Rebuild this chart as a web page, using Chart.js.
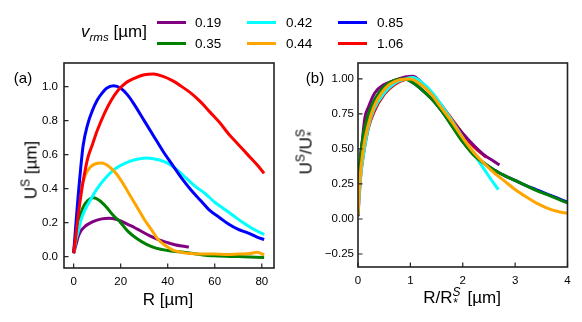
<!DOCTYPE html>
<html>
<head>
<meta charset="utf-8">
<script src="https://cdn.jsdelivr.net/npm/chart.js@4/dist/chart.umd.min.js"></script>
<style>
  html, body { margin:0; padding:0; background:#fff; }
  body { width:582px; height:322px; position:relative; overflow:hidden; font-family:"Liberation Sans", Arial, sans-serif; color:#000; }
  canvas { position:absolute; top:0; }
  .t { position:absolute; white-space:nowrap; line-height:1; }
  .c { transform:translate(-50%,-50%); }
  .rot { transform:translate(-50%,-50%) rotate(-90deg); }
  .ln { position:absolute; height:3px; width:29px; }
  sup, sub { font-size:70%; line-height:0; }
</style>
</head>
<body>
<canvas id="ca" width="291" height="322" style="left:0"></canvas>
<canvas id="cb" width="291" height="322" style="left:291px"></canvas>

<div class="t" style="left:81px;top:23px;font-size:17px;"><i>v<sub style="font-size:68%">rms</sub></i> [µm]</div>
<div class="ln" style="left:157px;top:21px;background:#800080"></div>
<div class="ln" style="left:157px;top:42px;background:#008000"></div>
<div class="ln" style="left:247px;top:21px;background:#00ffff"></div>
<div class="ln" style="left:247px;top:42px;background:#ffa500"></div>
<div class="ln" style="left:338px;top:21px;background:#0000ff"></div>
<div class="ln" style="left:338px;top:42px;background:#ff0000"></div>
<div class="t" style="left:195px;top:16px;font-size:13.5px;">0.19</div>
<div class="t" style="left:195px;top:37px;font-size:13.5px;">0.35</div>
<div class="t" style="left:286px;top:16px;font-size:13.5px;">0.42</div>
<div class="t" style="left:286px;top:37px;font-size:13.5px;">0.44</div>
<div class="t" style="left:377px;top:16px;font-size:13.5px;">0.85</div>
<div class="t" style="left:377px;top:37px;font-size:13.5px;">1.06</div>

<div class="t c" style="left:23px;top:77px;font-size:15px;">(a)</div>
<div class="t c" style="left:315px;top:77px;font-size:15px;">(b)</div>

<div class="t rot" style="left:31px;top:170px;font-size:17px;">U<sup>S</sup> [µm]</div>
<div class="t c" style="left:168px;top:299px;font-size:17px;">R [µm]</div>
<div class="t rot" style="left:306px;top:153px;font-size:17px;">U<sup>S</sup>/U<sup>S</sup><sub style="margin-left:-7px">*</sub></div>
<div class="t c" style="left:462px;top:297px;font-size:17px;">R/R<sup><i>S</i></sup><sub style="margin-left:-7px">*</sub>&nbsp;&nbsp;[µm]</div>

<script>
// ---------- data: panel (a), U^S vs R ----------
const seriesNames = ["0.19", "0.35", "0.42", "0.44", "0.85", "1.06"];
const seriesColors = ["#800080", "#008000", "#00ffff", "#ffa500", "#0000ff", "#ff0000"];

const a019x = [0,1,2,3,5,8,12,15,18,20,23,26,28,32,36,40,43,46,49];
const a019y = [0.02,0.07,0.12,0.15,0.18,0.205,0.222,0.225,0.22,0.21,0.19,0.17,0.155,0.125,0.1,0.082,0.07,0.062,0.056];

const a035x = [0,1,2,3,4,6,8.5,11,14,17,20,23,27,31,35,40,45,50,55,60,70,81];
const a035y = [0.02,0.12,0.2,0.25,0.29,0.33,0.347,0.33,0.29,0.24,0.2,0.15,0.105,0.072,0.05,0.036,0.028,0.02,0.01,0.005,0.0,-0.005];

const a042x = [0,1,2,3,5,7,10,14,18,22,26,31,36,40,44,48,52,56,60,64,68,72,76,81];
const a042y = [0.02,0.1,0.15,0.21,0.28,0.33,0.4,0.47,0.52,0.55,0.57,0.58,0.57,0.55,0.51,0.46,0.41,0.37,0.32,0.28,0.24,0.2,0.165,0.13];

const a044x = [0,1,2,3,5,7,9,12,15,18,21,24,27,30,33,36,39,42,46,50,55,60,65,70,75,78,81];
const a044y = [0.02,0.15,0.3,0.39,0.48,0.525,0.545,0.55,0.53,0.49,0.43,0.36,0.29,0.22,0.16,0.1,0.065,0.04,0.025,0.018,0.015,0.015,0.013,0.015,0.018,0.025,0.01];

const a085x = [0,1,2,3,4,6,8,10,12,14,17,20,23,26,30,34,38,42,46,50,54,58,62,66,70,74,78,81];
const a085y = [0.02,0.2,0.37,0.52,0.65,0.78,0.86,0.92,0.96,0.99,1.005,0.99,0.95,0.89,0.8,0.71,0.62,0.54,0.46,0.39,0.33,0.27,0.23,0.19,0.16,0.14,0.115,0.1];

const a106x = [0,1,2,3,4,6,8,10,13,16,19,22,26,30,34,38,42,46,50,54,58,62,66,70,74,78,81];
const a106y = [0.02,0.13,0.25,0.35,0.44,0.58,0.66,0.74,0.84,0.92,0.98,1.02,1.05,1.07,1.075,1.06,1.035,1.0,0.96,0.91,0.85,0.79,0.72,0.66,0.6,0.54,0.49];

// ---------- data: panel (b), U^S/U^S_* vs R/R^S_* ----------
const b019x = [0,0.03,0.08,0.13,0.2,0.32,0.5,0.7,0.9,1.05,1.2,1.4,1.6,1.8,2.0,2.2,2.4,2.6,2.7];
const b019y = [0.02,0.35,0.55,0.72,0.8,0.9,0.96,0.99,1.015,1.02,0.98,0.9,0.8,0.7,0.61,0.53,0.46,0.41,0.385];

const b035x = [0,0.02,0.05,0.1,0.2,0.3,0.4,0.5,0.6,0.7,0.8,0.9,1.0,1.1,1.2,1.4,1.6,1.8,2.0,2.2,2.4,2.6,2.8,3.0,3.2,3.4,3.6,3.8,4.0];
const b035y = [0.03,0.28,0.45,0.6,0.75,0.84,0.9,0.945,0.975,0.99,1.0,1.0,0.985,0.96,0.93,0.86,0.77,0.66,0.55,0.46,0.4,0.35,0.31,0.275,0.24,0.205,0.175,0.145,0.115];

const b042x = [0,0.05,0.1,0.2,0.3,0.5,0.7,0.9,1.05,1.2,1.4,1.6,1.8,2.0,2.2,2.4,2.6,2.68];
const b042y = [0.03,0.3,0.45,0.66,0.78,0.9,0.97,1.0,1.01,0.98,0.91,0.81,0.7,0.58,0.47,0.36,0.25,0.21];

const b044x = [0,0.03,0.1,0.2,0.3,0.45,0.6,0.8,1.0,1.2,1.4,1.6,1.8,2.0,2.2,2.4,2.6,2.8,3.0,3.2,3.4,3.6,3.8,4.0];
const b044y = [0.03,0.25,0.5,0.68,0.8,0.9,0.96,0.995,1.0,0.96,0.89,0.79,0.69,0.58,0.48,0.4,0.33,0.27,0.21,0.16,0.115,0.08,0.055,0.04];

const b085x = [0,0.02,0.05,0.1,0.2,0.3,0.4,0.5,0.6,0.7,0.8,0.9,1.0,1.1,1.2,1.4,1.6,1.8,2.0,2.2,2.4,2.6,2.8,3.0,3.2,3.4,3.6,3.8,4.0];
const b085y = [0.03,0.27,0.44,0.59,0.74,0.83,0.895,0.94,0.97,0.99,1.0,1.0,0.985,0.96,0.93,0.86,0.77,0.665,0.555,0.465,0.4,0.35,0.31,0.275,0.24,0.21,0.18,0.15,0.12];

const b106x = [0,0.05,0.1,0.2,0.3,0.5,0.7,0.9,1.0,1.2,1.4,1.6,1.8,2.0,2.2,2.45];
const b106y = [0.02,0.3,0.45,0.65,0.76,0.89,0.96,0.995,1.0,0.97,0.9,0.81,0.71,0.61,0.52,0.44];

// ---------- ticks ----------
const aXTicks = [0,20,40,60,80];
const aYTicks = [0.0,0.2,0.4,0.6,0.8,1.0];
const bXTicks = [0,1,2,3,4];
const bYTicks = [-0.25,0.0,0.25,0.5,0.75,1.0];

function pts(xs, ys){ return xs.map((x,i)=>({x:x, y:ys[i]})); }

// z: drawing rank, higher = drawn later (on top)
function ds(label, color, xs, ys, z){
  return { label, data: pts(xs, ys), borderColor: color, backgroundColor: color,
           borderWidth: 3, pointRadius: 0, showLine: true, tension: 0.4,
           cubicInterpolationMode: 'monotone', fill: false, order: -z };
}

const frame = {
  id: 'frame',
  afterDraw(chart){
    const {ctx, chartArea:a} = chart;
    const xs = chart.scales.x, ys = chart.scales.y;
    ctx.save();
    ctx.strokeStyle = '#222';
    ctx.lineWidth = 1.6;
    ctx.strokeRect(a.left, a.top, a.right - a.left, a.bottom - a.top);
    ctx.lineWidth = 1.2;
    ctx.beginPath();
    xs.ticks.forEach(t => { const p = xs.getPixelForValue(t.value); ctx.moveTo(p, a.bottom); ctx.lineTo(p, a.bottom - 4.5); });
    ys.ticks.forEach(t => { const p = ys.getPixelForValue(t.value); ctx.moveTo(a.left, p); ctx.lineTo(a.left + 4.5, p); });
    ctx.stroke();
    ctx.restore();
  }
};

function makeChart(id, datasets, cfg){
  return new Chart(document.getElementById(id), {
    type: 'scatter',
    data: { datasets },
    options: {
      responsive: false, animation: false, devicePixelRatio: 1,
      layout: { padding: { left: 0, top: cfg.top, right: cfg.right, bottom: 0 } },
      plugins: { legend: { display: false }, tooltip: { enabled: false } },
      scales: {
        x: {
          type: 'linear', min: cfg.xmin, max: cfg.xmax,
          grid: { display: false, drawTicks: false },
          border: { display: false },
          afterBuildTicks: s => { s.ticks = cfg.xticks.map(v => ({value: v})); },
          afterFit: s => { s.height = cfg.xh; },
          ticks: { color: '#000', font: { size: 11.5, family: '"Liberation Sans", Arial, sans-serif' }, padding: 7,
                   maxRotation: 0, autoSkip: false, callback: v => cfg.xfmt(v) }
        },
        y: {
          type: 'linear', min: cfg.ymin, max: cfg.ymax,
          grid: { display: false, drawTicks: false },
          border: { display: false },
          afterBuildTicks: s => { s.ticks = cfg.yticks.map(v => ({value: v})); },
          afterFit: s => { s.width = cfg.yw; },
          ticks: { color: '#000', font: { size: 11.5, family: '"Liberation Sans", Arial, sans-serif' }, padding: cfg.ypad,
                   autoSkip: false, callback: v => cfg.yfmt(v) }
        }
      }
    },
    plugins: [frame]
  });
}

makeChart('ca', [
  ds(seriesNames[0], seriesColors[0], a019x, a019y, 1),
  ds(seriesNames[1], seriesColors[1], a035x, a035y, 2),
  ds(seriesNames[2], seriesColors[2], a042x, a042y, 3),
  ds(seriesNames[3], seriesColors[3], a044x, a044y, 4),
  ds(seriesNames[4], seriesColors[4], a085x, a085y, 5),
  ds(seriesNames[5], seriesColors[5], a106x, a106y, 6)
], { top: 63, right: 17, xh: 54, yw: 64, ypad: 6,
     xmin: -4.1, xmax: 85.2, ymin: -0.067, ymax: 1.139,
     xticks: aXTicks, yticks: aYTicks,
     xfmt: v => String(v), yfmt: v => v.toFixed(1) });

makeChart('cb', [
  ds(seriesNames[4], seriesColors[4], b085x, b085y, 1),
  ds(seriesNames[5], seriesColors[5], b106x, b106y, 2),
  ds(seriesNames[0], seriesColors[0], b019x, b019y, 3),
  ds(seriesNames[2], seriesColors[2], b042x, b042y, 4),
  ds(seriesNames[1], seriesColors[1], b035x, b035y, 5),
  ds(seriesNames[3], seriesColors[3], b044x, b044y, 6)
], { top: 63, right: 14.5, xh: 55, yw: 67, ypad: 4,
     xmin: 0, xmax: 4, ymin: -0.343, ymax: 1.114,
     xticks: bXTicks, yticks: bYTicks,
     xfmt: v => String(v), yfmt: v => (v < 0 ? '\u2212' : '') + Math.abs(v).toFixed(2) });
</script>
</body>
</html>
